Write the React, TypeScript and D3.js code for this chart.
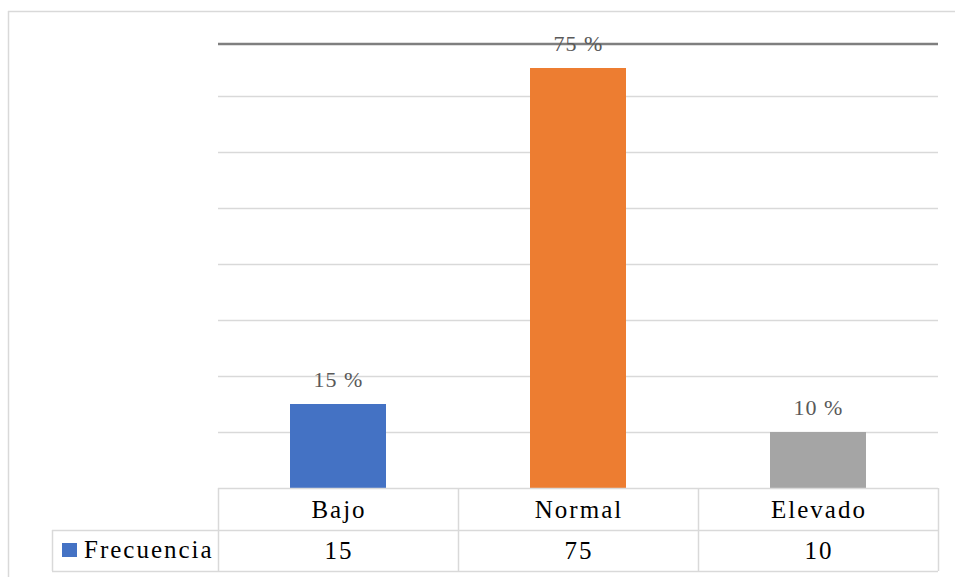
import React from "react";
import * as d3 from "d3";

const categories = ["Bajo", "Normal", "Elevado"];
const values = [15, 75, 10];
const labels = ["15 %", "75 %", "10 %"];
const colors = ["#4472C4", "#ED7D31", "#A5A5A5"];
const gridTicks = [10, 20, 30, 40, 50, 60, 70];
const seriesName = "Frecuencia";

const W = 955;
const H = 577;
const plotLeft = 218;
const plotRight = 938;
const plotTop = 40;
const plotBottom = 488;
const row1Bottom = 530;
const row2Bottom = 571;
const legendLeft = 52;

export default function App() {
  const x = d3.scaleBand<string>().domain(categories).range([plotLeft, plotRight]).paddingInner(0.6).paddingOuter(0.3);
  const y = d3.scaleLinear().domain([0, 80]).range([plotBottom, plotTop]);
  const step = x.step();
  const colStart = (i: number) => plotLeft + i * step;
  const font = "'Liberation Serif', 'Times New Roman', serif";
  const grid = "#d9d9d9";
  return (
    <svg width={W} height={H} style={{ position: "absolute", left: 0, top: 0, background: "#fff" }}>
      {/* outer border */}
      <line x1={8.5} y1={11} x2={8.5} y2={H} stroke={grid} strokeWidth={1.5} />
      <line x1={8} y1={11.5} x2={W} y2={11.5} stroke={grid} strokeWidth={1.5} />
      {/* gridlines */}
      {gridTicks.map((t) => (
        <line key={t} x1={plotLeft} x2={plotRight} y1={Math.round(y(t)) + 0.5} y2={Math.round(y(t)) + 0.5} stroke={grid} strokeWidth={1.5} />
      ))}
      {/* bars */}
      {categories.map((c, i) => (
        <rect key={c} x={x(c)} y={y(values[i])} width={x.bandwidth()} height={plotBottom - y(values[i])} fill={colors[i]} />
      ))}
      {/* top dark line */}
      <line x1={plotLeft} x2={plotRight} y1={44} y2={44} stroke="#7f7f7f" strokeWidth={2.5} />
      {/* data labels */}
      {categories.map((c, i) => (
        <text key={c} x={(x(c) as number) + x.bandwidth() / 2 + 0.5} y={y(values[i]) - 17} textAnchor="middle" fontFamily={font} fontSize={22} letterSpacing={1} fill="#595959">
          {labels[i]}
        </text>
      ))}
      {/* data table */}
      <g stroke={grid} strokeWidth={1.5} fill="none">
        <line x1={plotLeft} x2={plotRight} y1={plotBottom + 0.5} y2={plotBottom + 0.5} />
        <line x1={legendLeft} x2={plotRight} y1={row1Bottom + 0.5} y2={row1Bottom + 0.5} />
        <line x1={legendLeft} x2={plotRight} y1={row2Bottom + 0.5} y2={row2Bottom + 0.5} />
        <line x1={legendLeft + 0.5} x2={legendLeft + 0.5} y1={row1Bottom} y2={row2Bottom} />
        {d3.range(categories.length + 1).map((i) => (
          <line key={i} x1={colStart(i) + 0.5} x2={colStart(i) + 0.5} y1={plotBottom} y2={row2Bottom} />
        ))}
      </g>
      {categories.map((c, i) => (
        <g key={c} fontFamily={font} fontSize={25} letterSpacing={2} fill="#000" textAnchor="middle">
          <text x={colStart(i) + step / 2 + 1} y={518}>{c}</text>
          <text x={colStart(i) + step / 2 + 1} y={559}>{values[i]}</text>
        </g>
      ))}
      {/* legend */}
      <rect x={62} y={543} width={15} height={14} fill={colors[0]} />
      <text x={84} y={558} fontFamily={font} fontSize={25} letterSpacing={2} fill="#000">
        {seriesName}
      </text>
    </svg>
  );
}
